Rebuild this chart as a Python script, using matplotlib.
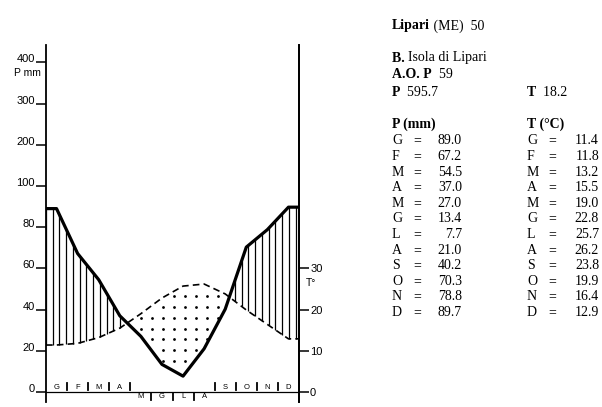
import matplotlib.pyplot as plt
import numpy as np

# Lipari (ME) - Bagnouls-Gaussen climate diagram
months = ['G', 'F', 'M', 'A', 'M', 'G', 'L', 'A', 'S', 'O', 'N', 'D']
prec = [89.0, 67.2, 54.5, 37.0, 27.0, 13.4, 7.7, 21.0, 40.2, 70.3, 78.8, 89.7]
temp = [11.4, 11.8, 13.2, 15.5, 19.0, 22.8, 25.7, 26.2, 23.8, 19.9, 16.4, 12.9]
p_ticks = [0, 20, 40, 60, 80, 100, 200, 300, 400]
t_ticks = [0, 10, 20, 30]
low_months = [4, 5, 6, 7]   # month labels written under the zero line

station = 'Lipari'
province = ' (ME)  50'
place = 'Isola di Lipari'
years_p = '59'
p_year = '595.7'
t_year = '18.2'

W, H = 602, 407


def pscale(v):
    # above 100 mm the scale is compressed 1:5
    return v if v <= 100 else 100 + (v - 100) / 5.0


fig = plt.figure(figsize=(W / 100, H / 100), dpi=100)
ax = fig.add_axes([46 / W, 1 - 402 / H, (299 - 46) / W, (402 - 45) / H])
ax.set_xlim(0, 12)
ax.set_ylim(-4.85, 168.4)

# lines (flat to the two axes)
xs = np.concatenate([[0], np.arange(12) + 0.5, [12]])
pl = np.array([prec[0]] + prec + [prec[-1]])
tl = 2 * np.array([temp[0]] + temp + [temp[-1]])

# vertical hatching where P > 2T
xh = np.arange(0, 12.001, 0.32)
ph = np.interp(xh, xs, pl)
th = np.interp(xh, xs, tl)
m = ph > th
ax.vlines(xh[m], th[m], ph[m], color='k', lw=0.9)

# dots where 2T > P
gx, gy = np.meshgrid(np.arange(0.335, 12, 0.522), np.arange(4.5, 170, 5.25))
gx, gy = gx.ravel(), gy.ravel()
pg = np.interp(gx, xs, pl)
tg = np.interp(gx, xs, tl)
m = (gy > pg + 1.5) & (gy < tg - 2.0)
ax.scatter(gx[m], gy[m], s=4, color='k', lw=0)

ax.plot(xs, tl, color='k', lw=1.2, ls=(0, (4, 2.5)))
ax.plot(xs, pl, color='k', lw=2.3, solid_joinstyle='round')

ax.axhline(0, color='k', lw=0.9)

for s in ['top', 'bottom']:
    ax.spines[s].set_visible(False)
ax.spines['left'].set_linewidth(1.3)
ax.spines['right'].set_linewidth(1.3)
ax.set_xticks([])
ax.set_yticks([pscale(v) for v in p_ticks])
ax.set_yticklabels([str(v) for v in p_ticks], fontsize=8, family='Liberation Sans')
ax.tick_params(axis='y', direction='out', length=7, width=1.1, pad=1)
for lab in ax.get_yticklabels():
    lab.set_va('baseline')

tw = ax.twinx()
tw.set_ylim(ax.get_ylim())
for s in ['top', 'bottom', 'left']:
    tw.spines[s].set_visible(False)
tw.spines['right'].set_linewidth(1.3)
tw.set_yticks([2 * t for t in t_ticks])
tw.set_yticklabels([str(t) for t in t_ticks], fontsize=8, family='Liberation Sans')
tw.tick_params(axis='y', direction='out', length=7, width=1.1, pad=1)

ax.text(-0.02, 155, 'P mm', transform=ax.get_yaxis_transform(), ha='right',
        va='center', fontsize=7.5, family='Liberation Sans')
tw.text(1.028, 53, 'T°', transform=tw.get_yaxis_transform(), ha='left',
        va='center', fontsize=7.5, family='Liberation Sans')

# month labels and separators
for i, mth in enumerate(months):
    y = -2.4 if i in low_months else 2.4
    ax.text(i + 0.5, y, mth, ha='center', va='center', fontsize=5.5,
            family='Liberation Sans')
for k in range(1, 12):
    if (k - 1) in low_months and k in low_months:
        ax.plot([k, k], [-0.5, -4.0], color='k', lw=1.3)
    else:
        ax.plot([k, k], [1.0, 4.4], color='k', lw=1.3)

# text panel (y given as centre of capitals, drawn on the baseline)
renderer = fig.canvas.get_renderer()
FS = 10
SERIF = 'Liberation Serif'
BASE = 4.5


def runs(x, y, parts):
    x = x / W
    for txt, bold in parts:
        t = fig.text(x, 1 - (y + BASE) / H, txt, fontsize=FS, family=SERIF,
                     weight='bold' if bold else 'normal', va='baseline')
        x += t.get_window_extent(renderer=renderer).width / W


runs(392, 25, [(station, True), (province, False)])
runs(392, 57, [('B. ', True), (place, False)])
runs(392, 74, [('A.O. P', True), ('  ' + years_p, False)])
runs(392, 91, [('P', True), ('  ' + p_year, False)])
runs(527, 91, [('T', True), ('  ' + t_year, False)])
runs(392, 123, [('P (mm)', True)])
runs(527, 123, [('T (°C)', True)])

y0, dy = 140, 15.6
for i, mth in enumerate(months):
    y = 1 - (y0 + BASE + i * dy) / H
    kw = dict(fontsize=FS, family=SERIF, va='baseline')
    fig.text(392 / W, y, mth, **kw)
    fig.text(417 / W, y, '=', ha='center', **kw)
    fig.text(462 / W, y, f'{prec[i]:.1f}', ha='right', **kw)
    fig.text(527 / W, y, mth, **kw)
    fig.text(552 / W, y, '=', ha='center', **kw)
    fig.text(599 / W, y, f'{temp[i]:.1f}', ha='right', **kw)

fig.savefig('out.png', dpi=100)
